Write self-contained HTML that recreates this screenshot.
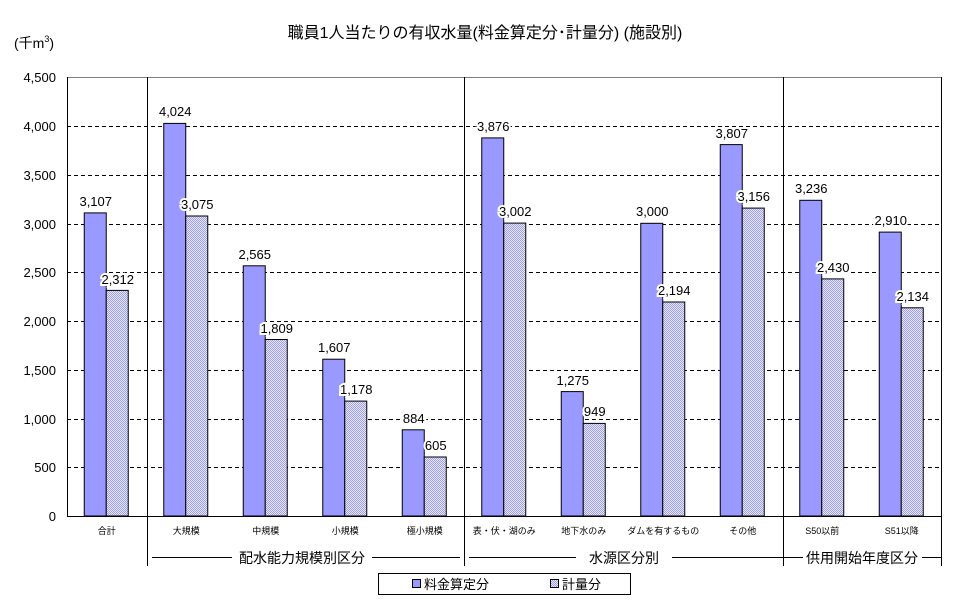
<!DOCTYPE html>
<html><head><meta charset="utf-8"><style>body{margin:0;background:#fff}svg{display:block}text{font-family:"Liberation Sans","Noto Sans CJK JP",sans-serif;fill:#000}</style></head><body>
<svg width="970" height="603" viewBox="0 0 970 603" xmlns="http://www.w3.org/2000/svg">
<defs><pattern id="p" width="2" height="2" patternUnits="userSpaceOnUse"><rect width="2" height="2" fill="#e6e6ff"/><rect width="1" height="1" fill="#a0a0e0"/><rect x="1" y="1" width="1" height="1" fill="#a0a0e0"/></pattern></defs>
<text x="485" y="38" font-size="16" text-anchor="middle">職員1人当たりの有収水量(料金算定分･計量分) (施設別)</text>
<text x="14" y="48" font-size="14">(千m<tspan font-size="9" dy="-6">3</tspan><tspan dy="6">)</tspan></text>
<g stroke="#000" stroke-dasharray="4,3" stroke-width="1">
<line x1="67" x2="942" y1="126.5" y2="126.5"/><line x1="67" x2="942" y1="175.5" y2="175.5"/><line x1="67" x2="942" y1="224.5" y2="224.5"/><line x1="67" x2="942" y1="272.5" y2="272.5"/><line x1="67" x2="942" y1="321.5" y2="321.5"/><line x1="67" x2="942" y1="370.5" y2="370.5"/><line x1="67" x2="942" y1="419.5" y2="419.5"/><line x1="67" x2="942" y1="467.5" y2="467.5"/>
</g>
<line x1="67" x2="942" y1="77.5" y2="77.5" stroke="#808080"/>
<g font-size="13" text-anchor="end">
<text x="56" y="82">4,500</text><text x="56" y="131">4,000</text><text x="56" y="180">3,500</text><text x="56" y="229">3,000</text><text x="56" y="277">2,500</text><text x="56" y="326">2,000</text><text x="56" y="375">1,500</text><text x="56" y="424">1,000</text><text x="56" y="472">500</text><text x="56" y="521">0</text>
</g>
<g stroke="#000" stroke-width="1">
<rect x="84.25" y="212.9" width="22" height="303.1" fill="#9999ff"/><rect x="106.25" y="290.4" width="22" height="225.6" fill="url(#p)"/>
<rect x="163.75" y="123.4" width="22" height="392.6" fill="#9999ff"/><rect x="185.75" y="216.0" width="22" height="300.0" fill="url(#p)"/>
<rect x="243.25" y="265.8" width="22" height="250.2" fill="#9999ff"/><rect x="265.25" y="339.5" width="22" height="176.5" fill="url(#p)"/>
<rect x="322.75" y="359.2" width="22" height="156.8" fill="#9999ff"/><rect x="344.75" y="401.1" width="22" height="114.9" fill="url(#p)"/>
<rect x="402.25" y="429.8" width="22" height="86.2" fill="#9999ff"/><rect x="424.25" y="457.0" width="22" height="59.0" fill="url(#p)"/>
<rect x="481.75" y="137.9" width="22" height="378.1" fill="#9999ff"/><rect x="503.75" y="223.1" width="22" height="292.9" fill="url(#p)"/>
<rect x="561.25" y="391.6" width="22" height="124.4" fill="#9999ff"/><rect x="583.25" y="423.4" width="22" height="92.6" fill="url(#p)"/>
<rect x="640.75" y="223.3" width="22" height="292.7" fill="#9999ff"/><rect x="662.75" y="302.0" width="22" height="214.0" fill="url(#p)"/>
<rect x="720.25" y="144.6" width="22" height="371.4" fill="#9999ff"/><rect x="742.25" y="208.1" width="22" height="307.9" fill="url(#p)"/>
<rect x="799.75" y="200.3" width="22" height="315.7" fill="#9999ff"/><rect x="821.75" y="278.9" width="22" height="237.1" fill="url(#p)"/>
<rect x="879.25" y="232.1" width="22" height="283.9" fill="#9999ff"/><rect x="901.25" y="307.8" width="22" height="208.2" fill="url(#p)"/>
</g>
<g font-size="13" text-anchor="middle" stroke="#fff" stroke-width="4" paint-order="stroke">
<text x="95.75" y="206">3,107</text><text x="175.25" y="116">4,024</text><text x="254.75" y="259">2,565</text><text x="334.25" y="352">1,607</text><text x="413.75" y="423">884</text><text x="493.25" y="131">3,876</text><text x="572.75" y="385">1,275</text><text x="652.25" y="216">3,000</text><text x="731.75" y="138">3,807</text><text x="811.25" y="193">3,236</text><text x="890.75" y="225">2,910</text>
<text x="117.75" y="284">2,312</text><text x="197.25" y="209">3,075</text><text x="276.75" y="333">1,809</text><text x="356.25" y="394">1,178</text><text x="435.75" y="450">605</text><text x="515.25" y="216">3,002</text><text x="594.75" y="416">949</text><text x="674.25" y="295">2,194</text><text x="753.75" y="201">3,156</text><text x="833.25" y="272">2,430</text><text x="912.75" y="301">2,134</text>
</g>
<g font-size="9" text-anchor="middle">
<text x="106.75" y="534">合計</text><text x="186.25" y="534">大規模</text><text x="265.75" y="534">中規模</text><text x="345.25" y="534">小規模</text><text x="424.75" y="534">極小規模</text><text x="504.25" y="534">表・伏・湖のみ</text><text x="583.75" y="534">地下水のみ</text><text x="663.25" y="534">ダムを有するもの</text><text x="742.75" y="534">その他</text><text x="822.25" y="534">S50以前</text><text x="901.75" y="534">S51以降</text>
</g>
<g stroke="#000" stroke-width="1">
<line x1="67.5" x2="67.5" y1="77" y2="516"/><line x1="941.5" x2="941.5" y1="77" y2="566"/>
<line x1="147.5" x2="147.5" y1="77" y2="566"/><line x1="464.5" x2="464.5" y1="77" y2="566"/><line x1="783.5" x2="783.5" y1="77" y2="566"/>
<line x1="67" x2="942" y1="516.5" y2="516.5"/>
<line x1="152" x2="232" y1="557.5" y2="557.5"/><line x1="372" x2="460" y1="557.5" y2="557.5"/>
<line x1="469" x2="576" y1="557.5" y2="557.5"/><line x1="672" x2="783" y1="557.5" y2="557.5"/>
<line x1="783" x2="803" y1="557.5" y2="557.5"/><line x1="922" x2="942" y1="557.5" y2="557.5"/>
</g>
<g font-size="14" text-anchor="middle"><text x="302" y="563">配水能力規模別区分</text><text x="624" y="563">水源区分別</text><text x="862" y="563">供用開始年度区分</text></g>
<rect x="378.5" y="573.5" width="252" height="21" fill="#fff" stroke="#000"/>
<rect x="412.5" y="579.5" width="8" height="8" fill="#9999ff" stroke="#000"/>
<text x="424" y="589" font-size="13">料金算定分</text>
<rect x="550.5" y="579.5" width="8" height="8" fill="url(#p)" stroke="#000"/>
<text x="562" y="589" font-size="13">計量分</text>
</svg></body></html>
